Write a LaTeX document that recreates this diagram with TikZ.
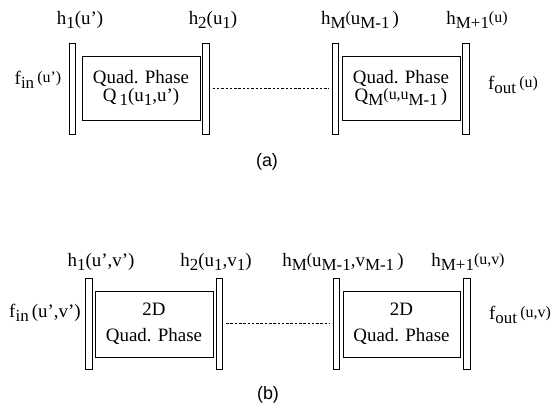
\documentclass[tikz,border=0pt]{standalone}
\usepackage{fontspec}
\setmainfont{Liberation Serif}
\newfontfamily\labfont{Liberation Sans}
\newcommand\sbs[1]{\raisebox{-0.5ex}{\fontsize{17}{17}\selectfont #1}}
\newcommand\sps[1]{\raisebox{0.25ex}{\fontsize{16}{16}\selectfont #1}}
\begin{document}
\begin{tikzpicture}[x=1bp,y=-1bp,
  every node/.style={font=\fontsize{19}{19}\selectfont, inner sep=0pt},
  plate/.style={draw, line width=0.9pt, fill=white, minimum width=6.5bp, minimum height=91bp},
  qbox/.style={draw, line width=0.8pt, minimum width=118bp, minimum height=64bp, align=center},
  lbl/.style={anchor=center},
  conn/.style={line width=0.6pt, dash pattern=on 2.5pt off 1.8pt},
  captxt/.style={font=\labfont\fontsize{18}{18}\selectfont}]
\useasboundingbox (0,0) rectangle (558,407);
% ---- (a)
\node[plate] (a1) at (72.5,89) {};
\node[qbox] (ab1) at (141,88) {Quad. Phase\\[-1pt]Q\,\sbs{1}(u\sbs{1},u’)};
\node[plate] (a2) at (206,89) {};
\node[plate] (aM) at (335.5,89) {};
\node[qbox] (abM) at (401,88) {Quad. Phase\\[-1pt]Q\sbs{M}\sps{(u,u}\sbs{M-1}\,)};
\node[plate] (aM1) at (466,89) {};
\draw[conn] ([xshift=3bp]a2.east |- 0,88) -- ([xshift=-3bp]aM.west |- 0,88);
\node[lbl] (ah1) at (80,20) {h\sbs{1}(u’)};
\node[lbl] (ah2) at (213,20) {h\sbs{2}(u\sbs{1})};
\node[lbl] (ahM) at (360,20) {h\sbs{M}\sps{(}u\sbs{M-1}\,)};
\node[lbl] (ahM1) at (477,20) {h\sbs{M+1}\sps{(u)}};
\node[lbl] (afin) at (38,80) {f\sbs{in}\,\sps{(u’)}};
\node[lbl] (afout) at (513,85) {f\sbs{out}\,\sps{(u)}};
\node[captxt] (capa) at (267,162) {(a)};
% ---- (b)
\node[plate] (b1) at (89,323.5) {};
\node[qbox, minimum height=66bp] (bb1) at (154,324) {2D\\[7pt]Quad. Phase};
\node[plate] (b2) at (219.5,323.5) {};
\node[plate] (bM) at (336.5,323.5) {};
\node[qbox, minimum height=66bp, minimum width=117bp] (bbM) at (401.5,324) {2D\\[7pt]Quad. Phase};
\node[plate] (bM1) at (467,323.5) {};
\draw[conn] ([xshift=3bp]b2.east |- 0,323) -- ([xshift=-3bp]bM.west |- 0,323);
\node[lbl] (bh1) at (101,262) {h\sbs{1}(u’,v’)};
\node[lbl] (bh2) at (216,262) {h\sbs{2}(u\sbs{1},v\sbs{1})};
\node[lbl] (bhM) at (343,262) {h\sbs{M}\sps{(}u\sbs{M-1},v\sbs{M-1}\,)};
\node[lbl] (bhM1) at (468,262) {h\sbs{M+1}\sps{(u,v)}};
\node[lbl] (bfin) at (45,313) {f\sbs{in}\,(u’,v’)};
\node[lbl] (bfout) at (520,315) {f\sbs{out}\,\sps{(u,v)}};
\node[captxt] (capb) at (268,395) {(b)};
\end{tikzpicture}
\end{document}
